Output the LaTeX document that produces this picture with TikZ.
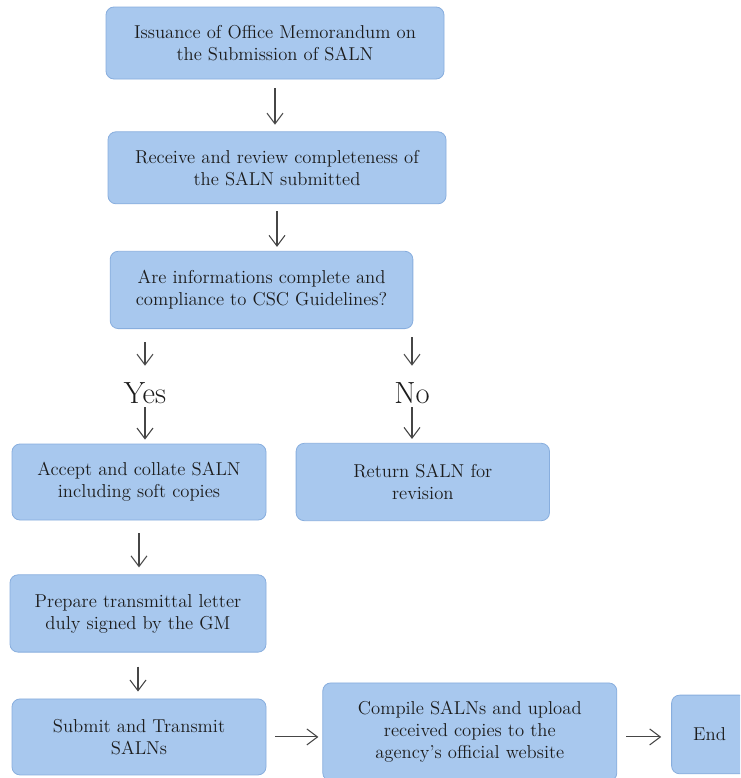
\documentclass[tikz,border=0pt]{standalone}
\usepackage{xcolor}
\usepackage{tikz}
\usetikzlibrary{positioning,arrows.meta}
\definecolor{boxblue}{RGB}{168,200,238}
\definecolor{edgeblue}{RGB}{136,174,222}
\definecolor{arrowgray}{RGB}{70,70,70}
\definecolor{textgray}{RGB}{28,28,28}
\tikzset{
  flow-box/.style={draw=edgeblue, fill=boxblue, line width=0.6pt, rounded corners=6pt,
    minimum width=190pt, minimum height=57pt, font=\fontsize{14}{16.5}\selectfont,
    text=textgray, align=center, inner sep=2pt},
  answer-label/.style={font=\fontsize{23}{25}\selectfont, text=textgray,
    inner sep=0pt, minimum height=21pt},
  flow-arrow/.style={-{Straight Barb[length=8pt,width=12pt]}, line width=0.8pt,
    draw=arrowgray, shorten <=7pt, shorten >=5pt}
}

\begin{document}
\begin{tikzpicture}
\clip (0,0) rectangle (555pt,-583.5pt);
\fill[white] (0,0) rectangle (555pt,-583.5pt);

% Main column
\node[flow-box, minimum width=253.5pt, minimum height=54pt] (issue) at (206.25pt,-32.25pt)
  {Issuance of Office Memorandum on\\ the Submission of SALN};
\node[flow-box, minimum width=253.5pt, minimum height=54pt, below=39pt of issue, xshift=1.5pt] (review)
  {Receive and review completeness of\\ the SALN submitted};
\node[flow-box, minimum width=227pt, minimum height=58pt, below=35pt of review, xshift=-11.6pt] (decision)
  {Are informations complete and\\ compliance to CSC Guidelines?};

% Answers
\node[answer-label] (yes) at (108.75pt,-294.75pt) {Yes};
\node[answer-label] (no) at (309pt,-294.75pt) {No};

% Branches
\node[flow-box, minimum width=190.5pt, minimum height=57pt] (accept) at (104.25pt,-361.5pt)
  {Accept and collate SALN\\ including soft copies};
\node[flow-box, minimum width=190pt, minimum height=58pt, right=22pt of accept] (return)
  {Return SALN for\\ revision};
\node[flow-box, minimum width=192pt, minimum height=58pt, below=40.5pt of accept, xshift=-0.75pt] (prepare)
  {Prepare transmittal letter\\ duly signed by the GM};
\node[flow-box, minimum width=190.5pt, minimum height=57pt, below=34.5pt of prepare, xshift=0.75pt] (submit)
  {Submit and Transmit\\ SALNs};
\node[flow-box, minimum width=220.5pt, minimum height=73.5pt, right=42pt of submit, yshift=3.75pt] (compile)
  {Compile SALNs and upload\\ received copies to the\\ agency's official website};
\node[flow-box, minimum width=57pt, minimum height=59pt, right=40.5pt of compile, yshift=-1.9pt] (end)
  {End};

% Connecting arrows
\draw[flow-arrow, shorten <=6.75pt, shorten >=5pt] (issue.south) -- (issue.south |- review.north);
\draw[flow-arrow, shorten <=5.25pt, shorten >=3pt] (review.south) -- (review.south |- decision.north);
\draw[flow-arrow, shorten <=9.75pt, shorten >=9.75pt] (decision.south -| yes) -- (yes);
\draw[flow-arrow, shorten <=0pt, shorten >=3pt] (yes) -- (yes |- accept.north);
\draw[flow-arrow, shorten <=6pt, shorten >=9.75pt] (decision.south -| no) -- (no);
\draw[flow-arrow, shorten <=0pt, shorten >=3pt] (no) -- (no |- return.north);
\draw[flow-arrow, shorten <=9.75pt, shorten >=5.25pt] (accept.south) -- (accept.south |- prepare.north);
\draw[flow-arrow, shorten <=10.5pt, shorten >=5.25pt] (prepare.south) -- (prepare.south |- submit.north);
\draw[flow-arrow, shorten <=6.75pt, shorten >=3pt] (submit) -- (submit -| compile.west);
\draw[flow-arrow, shorten <=6.75pt, shorten >=7.5pt] (compile.east |- submit) -- (submit -| end.west);
\end{tikzpicture}
\end{document}
